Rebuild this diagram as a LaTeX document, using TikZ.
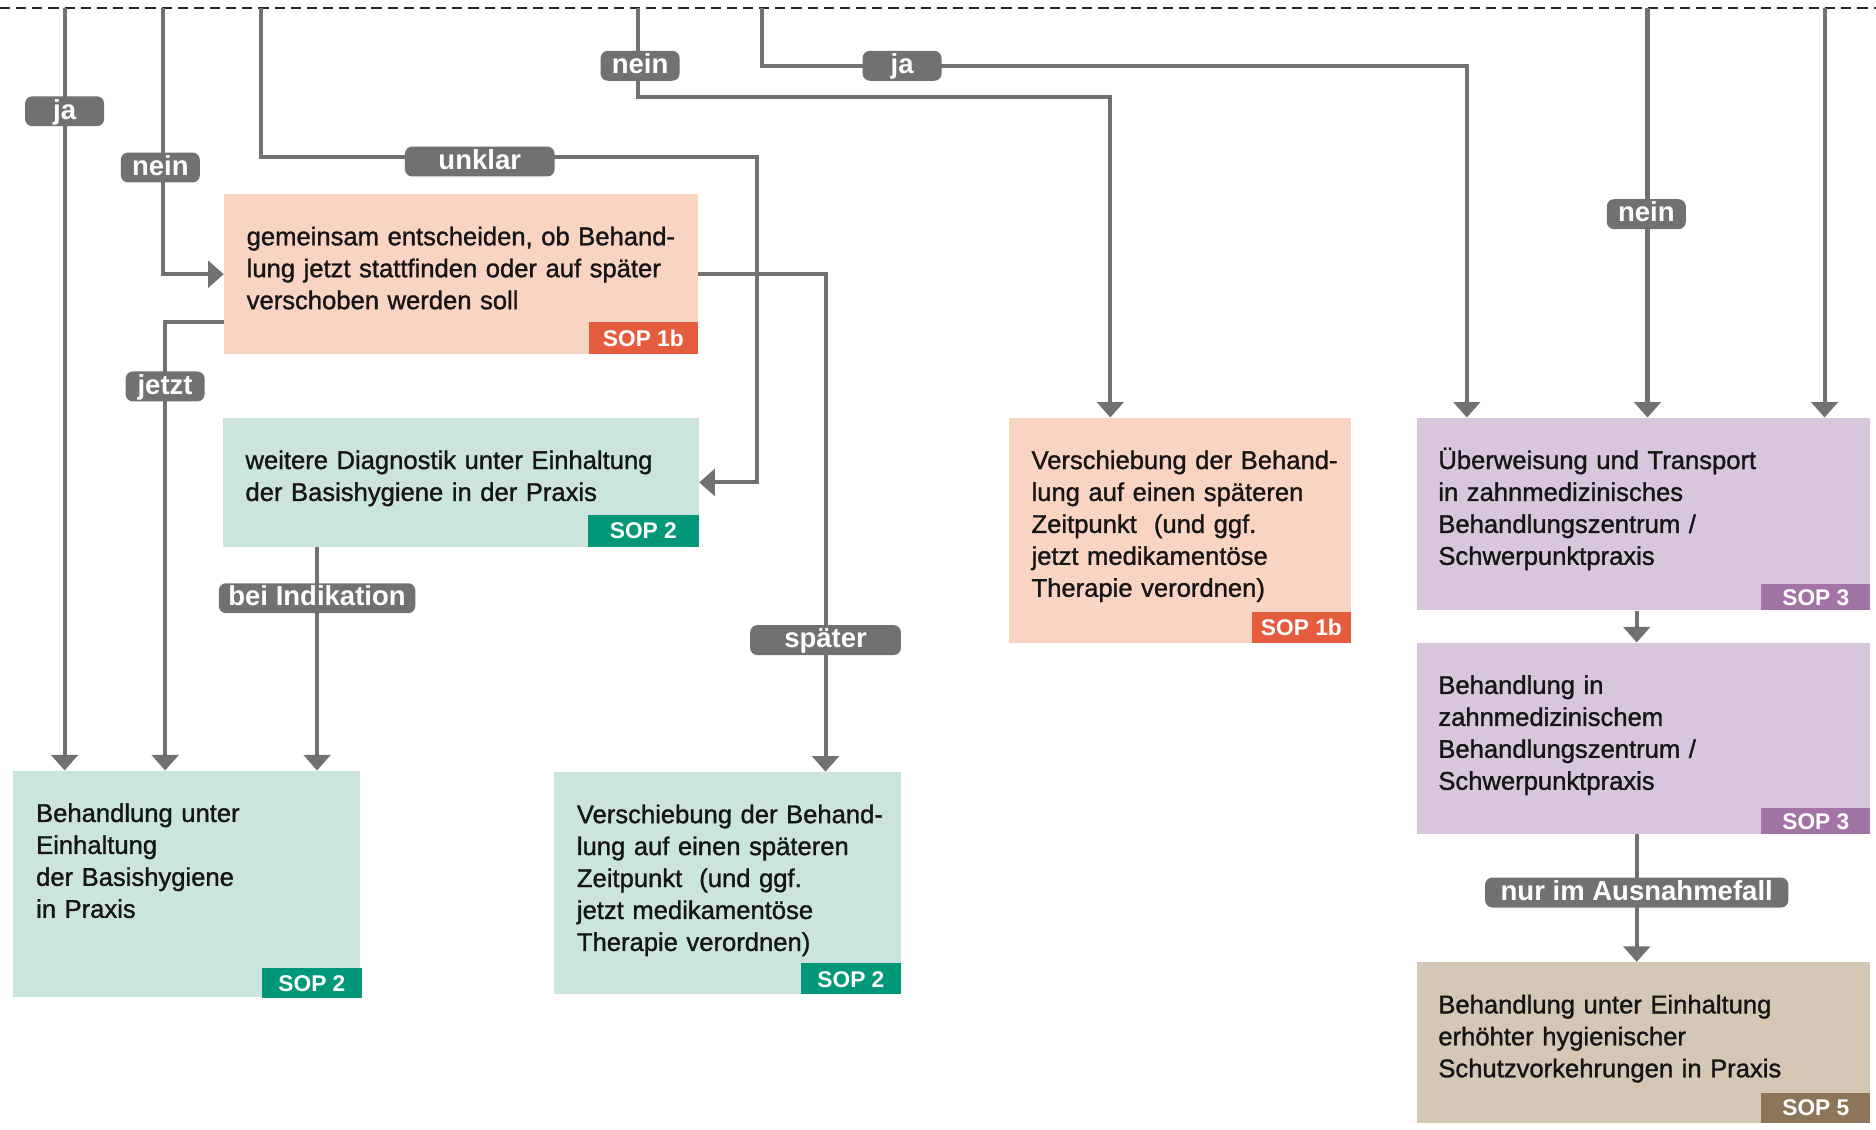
\documentclass[tikz,border=0pt]{standalone}
\usepackage{fontspec}
\setmainfont{Liberation Sans}
\newfontfamily\medfont{Liberation Sans}[FakeBold=1.2]
\usetikzlibrary{arrows.meta,calc}
\definecolor{salmon}{HTML}{F9D4C3}
\definecolor{sopred}{HTML}{E65C3F}
\definecolor{mint}{HTML}{CBE4DD}
\definecolor{sopgreen}{HTML}{009878}
\definecolor{lav}{HTML}{D7C6DC}
\definecolor{soppurple}{HTML}{A274A6}
\definecolor{tanbox}{HTML}{D5C7B5}
\definecolor{sopbrown}{HTML}{8C7558}
\definecolor{linegray}{HTML}{717171}
\definecolor{txt}{HTML}{151515}
\begin{document}
\begin{tikzpicture}[x=1pt,y=-1pt,
  boxnode/.style={rectangle, inner sep=0pt, anchor=north west, draw=none},
  boxtext/.style={anchor=base west, inner sep=0pt, text width=380pt, align=left, text=txt, font=\medfont\fontsize{21.4}{26.7}\selectfont},
  soptag/.style={anchor=south east, inner xsep=0pt, inner ysep=0pt, minimum height=25pt, text height=13.6pt, text depth=0pt, text=white, font=\bfseries\fontsize{19}{19}\selectfont},
  conn/.style={draw=linegray, line width=3.4pt, -{Triangle[width=22pt,length=13pt]}},
  pill/.style={fill=linegray, rounded corners=6pt, text=white, font=\bfseries\fontsize{23}{23}\selectfont, inner xsep=9pt, inner ysep=0pt, minimum width=66pt, minimum height=25pt, text height=16pt, text depth=3pt}
]
\useasboundingbox (0,0) rectangle (1568,944);
\fill[white] (0,0) rectangle (1568,944);

% dashed top line
\draw[black!85, line width=1.8pt, dash pattern=on 8.5pt off 5pt] (0,7) -- (1568,7);

% boxes
\node[boxnode, fill=salmon, minimum width=396pt, minimum height=134pt] (b1) at (187,162) {};
\node[boxnode, fill=mint, minimum width=398pt, minimum height=108pt] (b2) at (186,349) {};
\node[boxnode, fill=mint, minimum width=290pt, minimum height=189pt] (b3) at (11,644) {};
\node[boxnode, fill=mint, minimum width=290pt, minimum height=186pt] (b4) at (463,645) {};
\node[boxnode, fill=salmon, minimum width=286pt, minimum height=188pt] (b5) at (843,349) {};
\node[boxnode, fill=lav, minimum width=379pt, minimum height=161pt] (b6) at (1184,349) {};
\node[boxnode, fill=lav, minimum width=379pt, minimum height=160pt] (b7) at (1184,537) {};
\node[boxnode, fill=tanbox, minimum width=379pt, minimum height=134pt] (b8) at (1184,804) {};

% box texts
\node[boxtext] (b1t) at ($(b1.north west)+(19,43)$) {gemeinsam entscheiden, ob Behand-\\lung jetzt stattfinden oder auf später\\verschoben werden soll};
\node[boxtext] (b2t) at ($(b2.north west)+(19,43)$) {weitere Diagnostik unter Einhaltung\\der Basishygiene in der Praxis};
\node[boxtext] (b3t) at ($(b3.north west)+(19,43)$) {Behandlung unter\\Einhaltung\\der Basishygiene\\in Praxis};
\node[boxtext] (b4t) at ($(b4.north west)+(19,43)$) {Verschiebung der Behand-\\lung auf einen späteren\\Zeitpunkt~ (und ggf.\\jetzt medikamentöse\\Therapie verordnen)};
\node[boxtext] (b5t) at ($(b5.north west)+(19,43)$) {Verschiebung der Behand-\\lung auf einen späteren\\Zeitpunkt~ (und ggf.\\jetzt medikamentöse\\Therapie verordnen)};
\node[boxtext] (b6t) at ($(b6.north west)+(18,43)$) {Überweisung und Transport\\in zahnmedizinisches\\Behandlungszentrum /\\Schwerpunktpraxis};
\node[boxtext] (b7t) at ($(b7.north west)+(18,43)$) {Behandlung in\\zahnmedizinischem\\Behandlungszentrum /\\Schwerpunktpraxis};
\node[boxtext] (b8t) at ($(b8.north west)+(18,43)$) {Behandlung unter Einhaltung\\erhöhter hygienischer\\Schutzvorkehrungen in Praxis};

% SOP tags
\node[soptag, fill=sopred, minimum width=91pt, minimum height=27pt] (s1) at (b1.south east) {SOP 1b};
\node[soptag, fill=sopgreen, minimum width=93pt, minimum height=27pt] (s2) at (b2.south east) {SOP 2};
\node[soptag, fill=sopgreen, minimum width=83pt] (s3) at ($(b3.south east)+(1,1)$) {SOP 2};
\node[soptag, fill=sopgreen, minimum width=84pt, minimum height=26pt] (s4) at (b4.south east) {SOP 2};
\node[soptag, fill=sopred, minimum width=83pt, minimum height=26pt] (s5) at (b5.south east) {SOP 1b};
\node[soptag, fill=soppurple, minimum width=91pt, minimum height=22pt] (s6) at (b6.south east) {SOP 3};
\node[soptag, fill=soppurple, minimum width=91pt, minimum height=22pt] (s7) at (b7.south east) {SOP 3};
\node[soptag, fill=sopbrown, minimum width=91pt] (s8) at (b8.south east) {SOP 5};

% coordinates
\coordinate (t1) at (54,7);
\coordinate (t2) at (136,7);
\coordinate (t3) at (218,7);
\coordinate (t4) at (533,7);
\coordinate (t5) at (637,7);
\coordinate (t6) at (1377,7);
\coordinate (t7) at (1525,7);
\coordinate (c3) at (633,131);
\coordinate (c4) at (928,81);
\coordinate (c5) at (1226,55);
\coordinate (jl) at ($(b1.south west)+(0,-27)$);
\coordinate (jx) at (138,0);
\coordinate (sx) at (690,0);
\coordinate (bx) at (265,0);
\coordinate (rx) at (1368,0);

% connectors
\draw[conn] (t1) -- (t1 |- b3.north);
\draw[conn] (t2) |- (b1.west);
\draw[conn] (t3) |- (c3) |- (b2.east);
\draw[conn] (t4) |- (c4) -- (c4 |- b5.north);
\draw[conn] (t5) |- (c5) -- (c5 |- b6.north);
\draw[conn] (t6) -- (t6 |- b6.north);
\draw[conn] (t7) -- (t7 |- b6.north);
\draw[conn] (jl) -| (jx |- b3.north);
\draw[conn] (b1.east) -| (sx |- b4.north);
\draw[conn] (bx |- b2.south) -- (bx |- b3.north);
\draw[conn] (rx |- b6.south) -- (rx |- b7.north);
\draw[conn] (rx |- b7.south) -- (rx |- b8.north);

% labels
\node[pill] (lja1) at (54,93) {ja};
\node[pill] (lnein1) at (134,140) {nein};
\node[pill, minimum width=125pt] (lunklar) at (401,135) {unklar};
\node[pill] (lnein2) at (535,55) {nein};
\node[pill] (lja2) at (754,55) {ja};
\node[pill] (ljetzt) at (138,323) {jetzt};
\node[pill, inner xsep=8pt] (lbei) at (265,500) {bei Indikation};
\node[pill, minimum width=126pt] (lspaeter) at (690,535) {später};
\node[pill] (lnein3) at (1376,179) {nein};
\node[pill, inner xsep=13pt] (lnur) at (1368,746) {nur im Ausnahmefall};
\end{tikzpicture}
\end{document}
